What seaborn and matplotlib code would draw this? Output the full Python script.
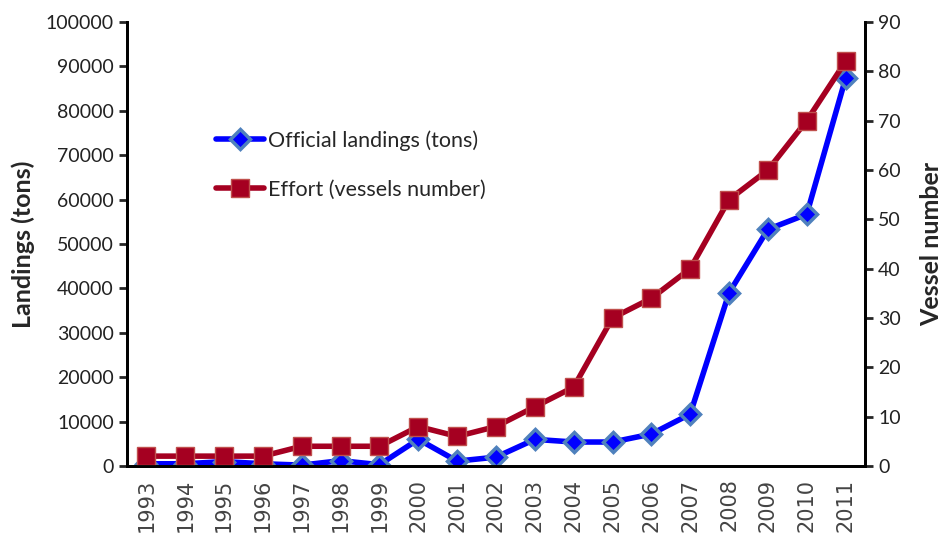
import pandas as pd
import matplotlib
matplotlib.use("Agg")
import matplotlib.pyplot as plt
import seaborn as sns
import numpy as np

years = [str(y) for y in range(1993, 2012)]
landings = [500, 500, 1000, 500, 200, 1200, 300, 6000, 1100, 2000, 6000,
            5400, 5400, 7200, 11700, 39000, 53300, 56700, 87300]
effort = [2, 2, 2, 2, 4, 4, 4, 8, 6, 8, 12, 16, 30, 34, 40, 54, 60, 70, 82]

df = pd.DataFrame({"year": years, "pos": np.arange(len(years)),
                   "landings": landings, "effort": effort})

sns.set_style("white")
plt.rcParams['font.family'] = ['Lato', 'DejaVu Sans']

fig = plt.figure(figsize=(9.45, 5.45), dpi=100)
ax = fig.add_axes([127 / 945, 1 - 466 / 545, 738 / 945, 444 / 545])
ax2 = ax.twinx()

sns.lineplot(data=df, x="pos", y="landings", ax=ax, color="#0000ff", lw=4,
             marker="D", markersize=10, markerfacecolor="#0000ff",
             markeredgecolor="#4f81bd", markeredgewidth=2.5,
             label="Official landings (tons)", legend=False)
sns.lineplot(data=df, x="pos", y="effort", ax=ax2, color="#a50021", lw=4,
             marker="s", markersize=13, markerfacecolor="#a50021",
             markeredgecolor="#c0504d", markeredgewidth=1,
             label="Effort (vessels number)", legend=False)

ax.set_xlim(-0.5, len(years) - 0.5)
ax.set_ylim(0, 100000)
ax2.set_ylim(0, 90)
ax.set_yticks(range(0, 100001, 10000))
ax2.set_yticks(range(0, 91, 10))

ax.set_xticks(df["pos"])
ax.set_xticklabels(years, rotation=90)
ax.set_xticks(np.arange(-0.5, len(years)), minor=True)
ax.tick_params(axis="x", which="major", length=0, pad=9)
ax.tick_params(axis="x", which="minor", length=7, width=2, direction="out", color="black")
ax.tick_params(axis="y", length=6, width=2, direction="out", labelsize=14, left=True,
               labelcolor="#222222")
ax2.tick_params(axis="y", length=6, width=2, direction="out", labelsize=14, right=True,
                labelcolor="#222222")
for lbl in ax.get_xticklabels():
    lbl.set_fontfamily("DejaVu Sans")
    lbl.set_fontsize(15)
    lbl.set_color("#444444")

for a in (ax, ax2):
    a.spines["top"].set_visible(False)
    for s in ("left", "bottom", "right"):
        a.spines[s].set_linewidth(2)
        a.spines[s].set_color("black")

ax.set_xlabel("")
ax.set_ylabel("Landings (tons)", fontsize=18, fontweight="bold", labelpad=8)
ax2.set_ylabel("Vessel number", fontsize=18, fontweight="bold", labelpad=14)

h1, l1 = ax.get_legend_handles_labels()
h2, l2 = ax2.get_legend_handles_labels()
ax.legend(h1 + h2, l1 + l2, loc="upper left", bbox_to_anchor=(0.095, 0.80),
          frameon=False, fontsize=15.5, handlelength=2.2, handletextpad=0.2,
          labelspacing=1.35)

fig.savefig("out.png", dpi=100)
